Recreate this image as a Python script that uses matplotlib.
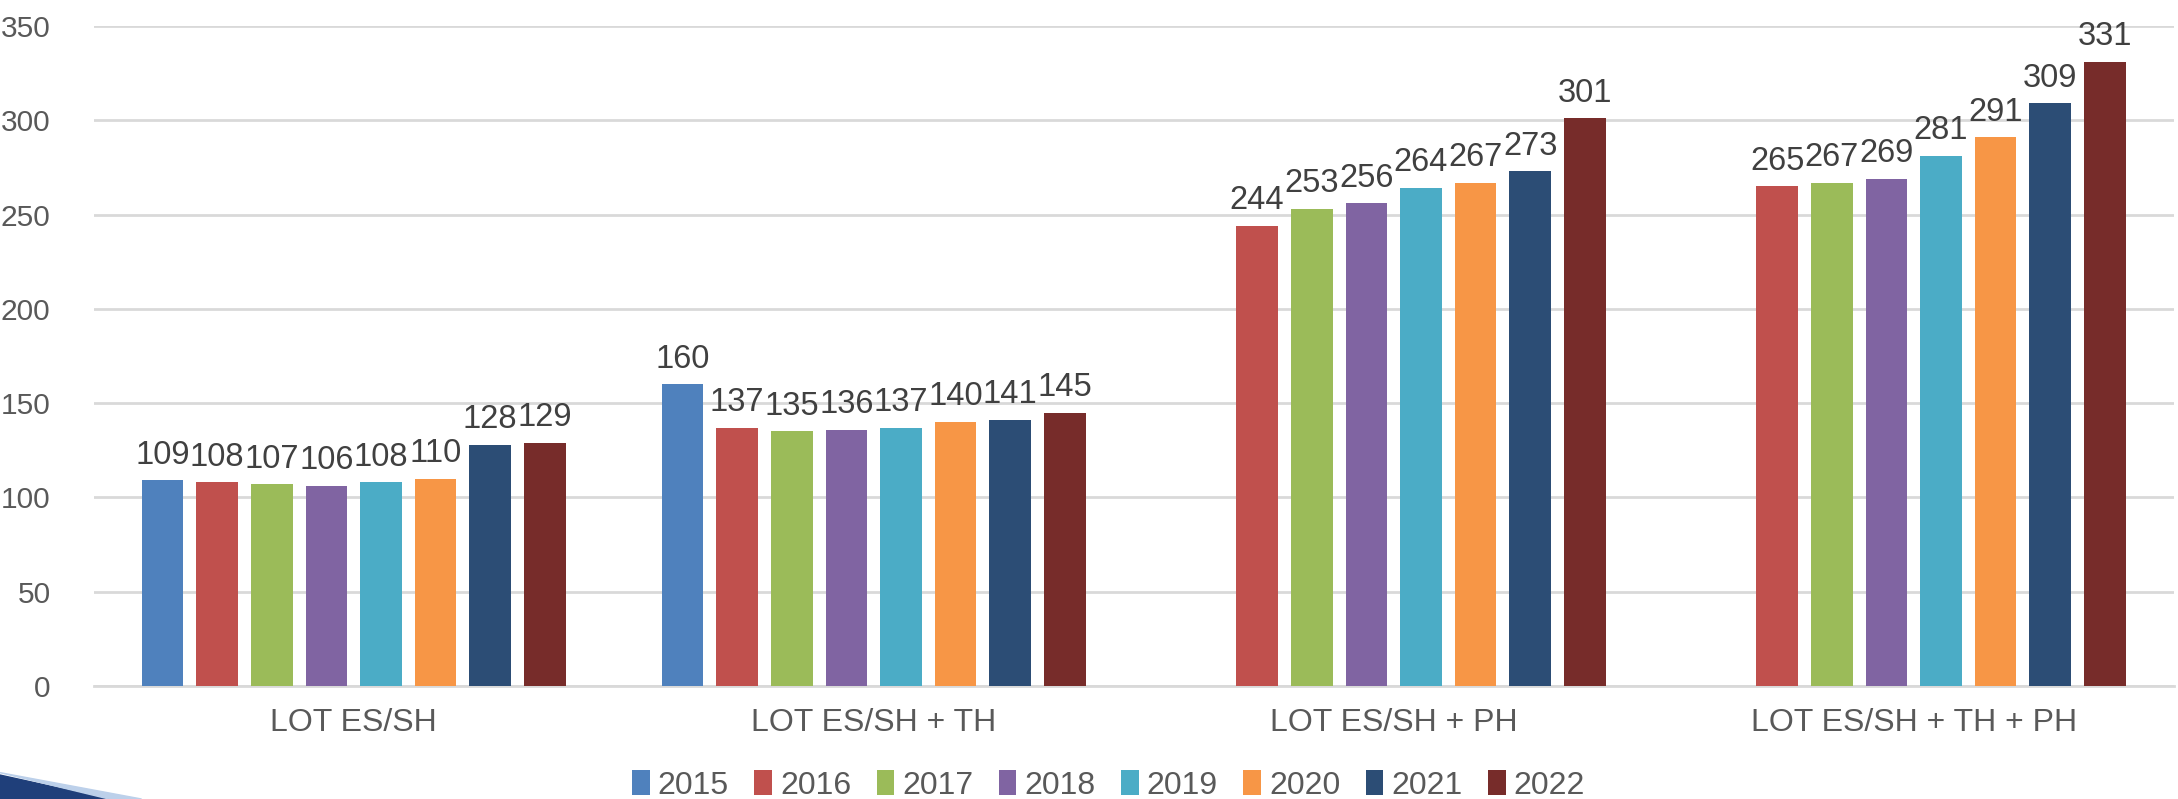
import numpy as np
import matplotlib
matplotlib.use("Agg")
import matplotlib.pyplot as plt
from matplotlib.patches import Polygon

plt.rcParams['font.family'] = ['Liberation Sans', 'DejaVu Sans']

categories = ["LOT ES/SH", "LOT ES/SH + TH", "LOT ES/SH + PH", "LOT ES/SH + TH + PH"]
years = ["2015", "2016", "2017", "2018", "2019", "2020", "2021", "2022"]
v2015 = [109, 160, np.nan, np.nan]
v2016 = [108, 137, 244, 265]
v2017 = [107, 135, 253, 267]
v2018 = [106, 136, 256, 269]
v2019 = [108, 137, 264, 281]
v2020 = [110, 140, 267, 291]
v2021 = [128, 141, 273, 309]
v2022 = [129, 145, 301, 331]
series = [v2015, v2016, v2017, v2018, v2019, v2020, v2021, v2022]
colors = ["#4F81BD", "#C0504D", "#9BBB59", "#8064A2", "#4BACC6", "#F79646", "#2C4D75", "#772C2A"]

fig = plt.figure(figsize=(21.78, 7.99), dpi=100)
ax = fig.add_axes([0.043, 0.1414, 0.955, 0.826])

x = np.arange(len(categories))
pitch = 0.105
width = 0.08
for i, (vals, c, yr) in enumerate(zip(series, colors, years)):
    pos = x + (i - 3.5) * pitch
    ax.bar(pos, vals, width=width, color=c, label=yr, zorder=3)
    for p, v in zip(pos, vals):
        if np.isnan(v):
            continue
        ax.annotate(str(int(v)), (p, v), xytext=(0, 7), textcoords="offset points",
                    ha="center", va="bottom", fontsize=23.5, color="#404040")

ax.set_xlim(-0.5, 3.5)
ax.set_ylim(0, 350)
ax.set_yticks(range(0, 351, 50))
ax.set_xticks(x)
ax.set_xticklabels(categories)
ax.tick_params(axis="y", length=0, pad=31, labelsize=21.5, labelcolor="#595959")
ax.tick_params(axis="x", length=0, pad=16, labelsize=23, labelcolor="#595959")
ax.yaxis.grid(True, color="#D9D9D9", linewidth=2, zorder=0)
for s in ["top", "right", "left"]:
    ax.spines[s].set_visible(False)
ax.spines["bottom"].set_color("#D9D9D9")
ax.spines["bottom"].set_linewidth(2)

fig.legend(loc="center", bbox_to_anchor=(0.509, 0.017), ncol=8, frameon=False,
           fontsize=23, handlelength=0.55, handleheight=0.8, handletextpad=0.25,
           columnspacing=0.8, labelcolor="#595959")

# decorative swoosh in bottom-left corner
fig.patches.append(Polygon([(0, 0.03), (0.05, 0.0), (0.0, 0.0)], closed=True,
                           transform=fig.transFigure, color="#1F3F7A"))
fig.patches.append(Polygon([(0, 0.033), (0.065, 0.0), (0.05, 0.0)], closed=True,
                           transform=fig.transFigure, color="#BCD0EA"))

fig.savefig("out.png", dpi=100)
